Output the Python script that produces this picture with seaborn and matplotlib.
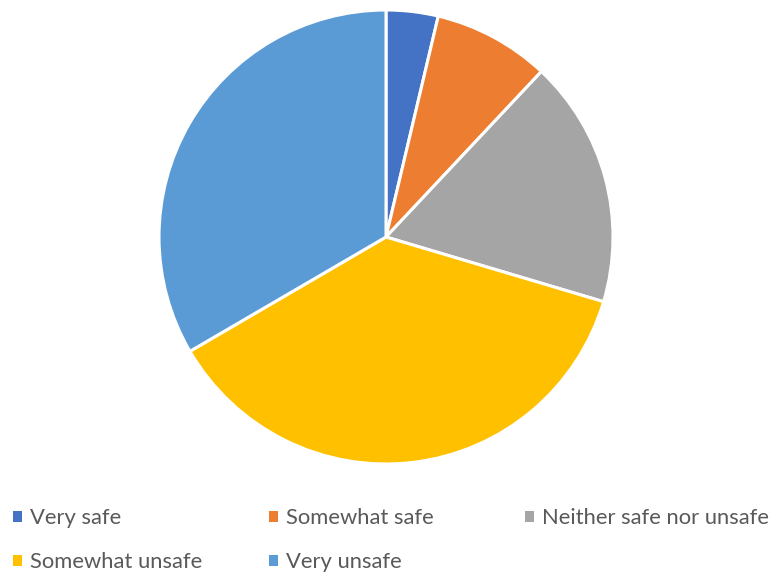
import matplotlib
matplotlib.use("Agg")
import matplotlib.pyplot as plt
from matplotlib.patches import Patch
import seaborn as sns

categories = ["Very safe", "Somewhat safe", "Neither safe nor unsafe",
              "Somewhat unsafe", "Very unsafe"]
shares = [3.7, 8.3, 17.6, 37.0, 33.4]
colors = ["#4472C4", "#ED7D31", "#A5A5A5", "#FFC000", "#5B9BD5"]

sns.set_theme(style="white")
plt.rcParams["font.family"] = ["Lato", "DejaVu Sans"]

W, H = 772, 574
fig = plt.figure(figsize=(W / 100, H / 100), dpi=100)
cx, cy, r = 386, 237, 227
ax = fig.add_axes([(cx - r) / W, 1 - (cy + r) / H, 2 * r / W, 2 * r / H])
palette = sns.color_palette(colors)
ax.pie(shares, colors=palette, startangle=90, counterclock=False,
       radius=1, wedgeprops=dict(edgecolor="white", linewidth=2.2))
ax.set_xlim(-1, 1)
ax.set_ylim(-1, 1)
ax.set_aspect("equal")
ax.axis("off")

# Legend laid out row by row, three entries per row, fixed column pitch
col_x = [13, 269, 525]
row_y = [518, 562]
for i, (label, color) in enumerate(zip(categories, palette)):
    x = col_x[i % 3]
    y = row_y[i // 3]
    fig.legend([Patch(facecolor=color, edgecolor="none")], [label],
               loc="center left", bbox_to_anchor=(x / W, 1 - y / H),
               frameon=False, fontsize=15.8, labelcolor="#595959",
               handlelength=0.4, handleheight=0.4, handletextpad=0.36,
               borderpad=0, borderaxespad=0)

fig.savefig("out.png", dpi=100, facecolor="white")
